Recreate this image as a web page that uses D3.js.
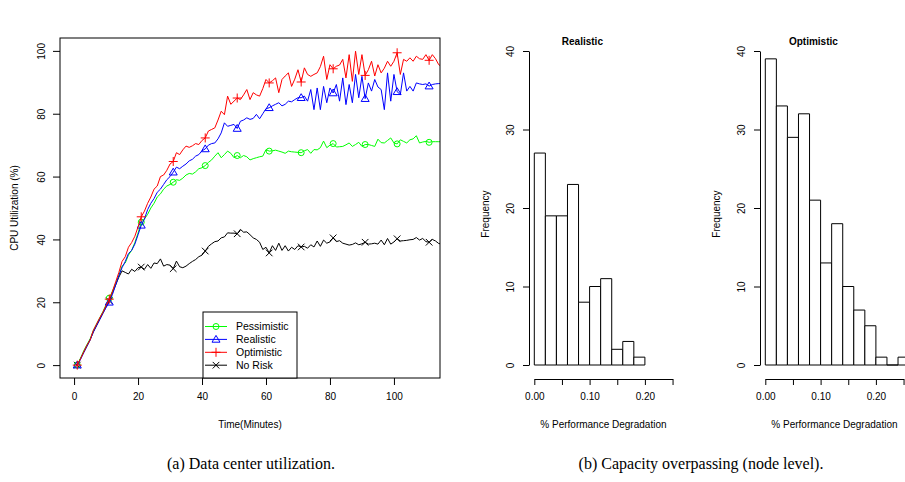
<!DOCTYPE html>
<html>
<head>
<meta charset="utf-8">
<script src="https://cdn.jsdelivr.net/npm/d3@7"></script>
<style>
    body { margin: 0; background: #fff; }
    svg { display: block; font-family: "Liberation Sans", Arial, sans-serif; }
    .tick text { font-size: 10px; fill: #000; }
    .tick line, .domain { stroke: #000; }
</style>
</head>
<body>
<svg id="chart" width="905" height="482"></svg>
<script>
'use strict';

// --- Data ------------------------------------------------------------

// minutes 1..115, one sample per minute
var minutes = [
    1, 2, 3, 4, 5, 6, 7, 8, 9, 10, 11, 12, 13, 14, 15, 16, 17, 18, 19, 20,
    21, 22, 23, 24, 25, 26, 27, 28, 29, 30, 31, 32, 33, 34, 35, 36, 37, 38, 39, 40,
    41, 42, 43, 44, 45, 46, 47, 48, 49, 50, 51, 52, 53, 54, 55, 56, 57, 58, 59, 60,
    61, 62, 63, 64, 65, 66, 67, 68, 69, 70, 71, 72, 73, 74, 75, 76, 77, 78, 79, 80,
    81, 82, 83, 84, 85, 86, 87, 88, 89, 90, 91, 92, 93, 94, 95, 96, 97, 98, 99, 100,
    101, 102, 103, 104, 105, 106, 107, 108, 109, 110, 111, 112, 113, 114, 115
];
var markerMinutes = [1, 11, 21, 31, 41, 51, 61, 71, 81, 91, 101, 111];

var pessimistic = [
    0, 2.2, 4.5, 6.5, 8.3, 11, 13, 15, 17, 19.2,
    21.3, 23.5, 26, 28.5, 31.5, 32.5, 35, 36.5, 39, 42,
    45.5, 46.5, 48, 50, 51.5, 53.5, 54.5, 56, 57, 57.5,
    58.2, 59, 58.8, 59.5, 60.5, 61, 60.8, 61.5, 62.5, 62.8,
    63.5, 64.5, 65.3, 66.5, 67.6, 66, 67, 68.1, 67.4, 66,
    66.7, 66, 66.7, 66.3, 65.3, 65.7, 66, 66.3, 66.5, 68.6,
    68.1, 68.2, 68.4, 68.1, 67.8, 67.4, 68.1, 67.9, 67.8, 67.7,
    67.6, 68.2, 68.6, 67.4, 68.6, 68.5, 69.2, 71.3, 69.2, 70,
    70.5, 69.4, 69.5, 69.6, 70.1, 70.7, 69.6, 70.2, 70.9, 69.6,
    70.2, 70.2, 69.9, 69.6, 71.9, 70.8, 70.7, 71.5, 72.3, 70.7,
    70.4, 71.7, 71.2, 70.7, 71.7, 72, 73, 70.7, 71, 71.2,
    70.9, 71.1, 71.1, 71.1, 71.1
];
var realistic = [
    0, 1.8, 4, 6, 8, 10.5, 12.5, 14.5, 16.5, 18.3,
    20, 22.5, 25.5, 28.5, 31, 33, 35.5, 36.5, 38.5, 41.5,
    44.5, 46.5, 49.5, 51.5, 53, 55, 56, 57.5, 59, 60,
    61.4, 63, 62.5, 63.3, 64, 65, 65.5, 66.5, 67, 68.2,
    68.8, 70, 70.5, 70.7, 72, 73.9, 77.1, 76, 76.3, 76.6,
    75.3, 77.6, 78, 78.7, 78.2, 78.5, 79.8, 78.4, 80, 81.6,
    81.9, 82.5, 83, 83.5, 82.5, 83, 84, 83.8, 84.5, 85.1,
    85.1, 85.6, 84, 87.7, 81.3, 88.2, 81.3, 88.7, 83.5, 88.2,
    86.6, 89.3, 84, 91.4, 82.9, 89.3, 83.5, 92.5, 85.1, 91.9,
    84.8, 89.8, 87.2, 90.9, 88.5, 87.7, 81.3, 93, 84, 92.5,
    87, 86.1, 93, 87.2, 88.7, 87.2, 89.8, 89.5, 89.3, 89.5,
    88.8, 89.3, 89.5, 89.6, 89.6
];
var optimistic = [
    0, 2, 4.2, 6.3, 8, 11, 13, 15, 16.8, 19,
    21, 23.5, 26.5, 29.5, 33, 34.5, 37.5, 39, 41, 44,
    47.2, 49, 51.5, 53.5, 56, 57, 60, 60.5, 62, 64,
    64.8, 67.6, 67, 68.5, 69.7, 69.3, 69.8, 70.5, 70.2, 71.5,
    72.3, 74.5, 75, 75.5, 78, 80.8, 79.7, 85.6, 83, 84,
    85, 84.5, 86, 87.7, 84.5, 86.7, 86, 85.6, 88, 90.9,
    89.8, 90.5, 91.4, 86.7, 90.9, 92, 93, 88.7, 91, 94,
    90.1, 94.6, 92.5, 91.9, 92.5, 93, 95, 98.3, 90.9, 95.6,
    94.3, 95.1, 95.5, 97.3, 91.4, 98.8, 90.3, 99.9, 92.5, 98.8,
    92.2, 94, 96.7, 92, 95.6, 93, 94.5, 96.7, 95.1, 96.7,
    99.4, 92.5, 97.3, 96.7, 97.8, 96.7, 98.3, 97.5, 97.3, 98.8,
    97, 98.8, 97.5, 95.6, 95
];
var noRisk = [
    0, 2, 4, 6, 8, 10.5, 12.5, 14.5, 16.5, 18.5,
    20.5, 23, 25.5, 28, 30, 29.5, 29, 30.5, 29.8, 31,
    31.2, 30.5, 32, 30.8, 32.5, 32.3, 33.8, 31.5, 32, 31.8,
    30.7, 33.1, 31.3, 31, 31.5, 32.3, 33, 33.6, 34.5, 35,
    36.3, 37.8, 38.6, 39.3, 39.5, 40.5, 40.8, 42.1, 42, 42,
    41.8, 43.2, 42.3, 42.4, 41.5, 40.5, 40, 39.1, 36.8, 37.5,
    35.7, 38, 36.5, 38.8, 36.5, 38, 36.3, 37.5, 36.8, 38,
    37.6, 37.8, 37.2, 38.3, 37.6, 39.5, 37.8, 39.8, 38.8, 39.2,
    40.5, 39.3, 39.6, 38.8, 38.5, 38.2, 38.4, 38.9, 38.3, 38.6,
    39.1, 38.5, 38.6, 38.8, 38.5, 39.8, 38.3, 40.3, 38.5, 39.2,
    40.2, 39.5, 39.6, 39.7, 39.9, 40, 40.6, 39.8, 40.3, 39.3,
    39.1, 40, 39.5, 38.7, 38.5
];

var seriesNames = ['Pessimistic', 'Realistic', 'Optimistic', 'No Risk'];
var seriesColors = ['#00ff00', '#0000ff', '#ff0000', '#000000'];
var seriesSymbols = ['circle', 'triangle', 'plus', 'cross'];

var utilTicks = [0, 20, 40, 60, 80, 100];
var minuteTicks = [0, 20, 40, 60, 80, 100];

// histogram bins of width 0.02
var binEdges = [0, 0.02, 0.04, 0.06, 0.08, 0.10, 0.12, 0.14, 0.16, 0.18,
                0.20, 0.22, 0.24, 0.26];
var realisticCounts = [27, 19, 19, 23, 8, 10, 11, 2, 3, 1];
var optimisticCounts = [39, 33, 29, 32, 21, 13, 18, 10, 7, 5, 1, 0, 1];
var freqTicks = [0, 10, 20, 30, 40];
var degTicks = [0, 0.05, 0.10, 0.15, 0.20, 0.25];
var degLabels = ['0.00', '', '0.10', '', '0.20', ''];

var captions = ['(a) Data center utilization.', '(b) Capacity overpassing (node level).'];

(function () {
    var svg = d3.select('#chart');
    var allSeries = [pessimistic, realistic, optimistic, noRisk];

    // --- symbols (R pch 1..4) ----------------------------------------

    function drawSymbol(g, kind, cx, cy, color) {
        var s = 3.3;
        if (kind === 'circle') {
            g.append('circle').attr('cx', cx).attr('cy', cy).attr('r', 3)
                .attr('fill', 'none').attr('stroke', color);
        } else if (kind === 'triangle') {
            g.append('path')
                .attr('d', 'M' + cx + ',' + (cy - 4) + 'L' + (cx + 4) + ',' + (cy + 2.8) +
                    'L' + (cx - 4) + ',' + (cy + 2.8) + 'Z')
                .attr('fill', 'none').attr('stroke', color);
        } else if (kind === 'plus') {
            g.append('path')
                .attr('d', 'M' + (cx - 4.5) + ',' + cy + 'H' + (cx + 4.5) +
                    'M' + cx + ',' + (cy - 4.5) + 'V' + (cy + 4.5))
                .attr('stroke', color);
        } else {
            g.append('path')
                .attr('d', 'M' + (cx - s) + ',' + (cy - s) + 'L' + (cx + s) + ',' + (cy + s) +
                    'M' + (cx - s) + ',' + (cy + s) + 'L' + (cx + s) + ',' + (cy - s))
                .attr('stroke', color);
        }
    }

    function rotateYLabels(axisG, offset) {
        axisG.selectAll('.tick text')
            .attr('x', null).attr('dy', null)
            .attr('text-anchor', 'middle')
            .attr('transform', 'translate(' + (-offset) + ',0) rotate(-90)');
    }

    // --- (a) utilization line chart ----------------------------------

    function drawLineChart() {
        var left = 60, top = 38, right = 440, bottom = 378;
        var x = d3.scaleLinear().domain([-4.4, 114.4]).range([left, right]);
        var y = d3.scaleLinear().domain([-4.1, 104.1]).range([bottom, top]);
        var g = svg.append('g');

        svg.append('defs').append('clipPath').attr('id', 'plotClip')
            .append('rect').attr('x', left).attr('y', top)
            .attr('width', right - left).attr('height', bottom - top);

        var plot = g.append('g').attr('clip-path', 'url(#plotClip)');
        var line = d3.line()
            .x(function (d, i) { return x(minutes[i]); })
            .y(function (d) { return y(d); });

        // draw No Risk first so the coloured lines sit on top of it
        [3, 0, 1, 2].forEach(function (k) {
            plot.append('path').datum(allSeries[k])
                .attr('d', line)
                .attr('fill', 'none')
                .attr('stroke', seriesColors[k])
                .attr('stroke-width', 1);
            markerMinutes.forEach(function (m) {
                var v = allSeries[k][minutes.indexOf(m)];
                drawSymbol(plot, seriesSymbols[k], x(m), y(v), seriesColors[k]);
            });
        });

        g.append('rect').attr('x', left).attr('y', top)
            .attr('width', right - left).attr('height', bottom - top)
            .attr('fill', 'none').attr('stroke', '#000');

        var xa = g.append('g').attr('transform', 'translate(0,' + bottom + ')')
            .call(d3.axisBottom(x).tickValues(minuteTicks).tickSize(7).tickPadding(8)
                .tickFormat(d3.format('d')));
        xa.select('.domain').remove();

        var ya = g.append('g').attr('transform', 'translate(' + left + ',0)')
            .call(d3.axisLeft(y).tickValues(utilTicks).tickSize(7).tickFormat(d3.format('d')));
        ya.select('.domain').remove();
        rotateYLabels(ya, 15);

        g.append('text').attr('x', (left + right) / 2).attr('y', 428)
            .attr('text-anchor', 'middle').attr('font-size', 10)
            .text('Time(Minutes)');
        g.append('text')
            .attr('transform', 'translate(18,' + ((top + bottom) / 2) + ') rotate(-90)')
            .attr('text-anchor', 'middle').attr('font-size', 10)
            .text('CPU Utilization (%)');

        // legend
        var lg = g.append('g');
        lg.append('rect').attr('x', 203).attr('y', 312).attr('width', 94).attr('height', 66)
            .attr('fill', '#fff').attr('stroke', '#000');
        seriesNames.forEach(function (name, k) {
            var cy = 326.5 + k * 12.9;
            lg.append('line').attr('x1', 205).attr('x2', 227)
                .attr('y1', cy).attr('y2', cy).attr('stroke', seriesColors[k]);
            drawSymbol(lg, seriesSymbols[k], 216, cy, seriesColors[k]);
            lg.append('text').attr('x', 236).attr('y', cy).attr('dy', '0.35em')
                .attr('font-size', 10.5).text(name);
        });
    }

    // --- (b) histograms ----------------------------------------------

    function drawHistogram(counts, title, x0, axisX) {
        var x = d3.scaleLinear().domain([0, 0.25]).range([x0, x0 + 0.25 * 553]);
        var y = d3.scaleLinear().domain([0, 40]).range([365, 51]);
        var g = svg.append('g');

        counts.forEach(function (c, i) {
            var a = x(binEdges[i]), b = x(binEdges[i + 1]);
            g.append('path')
                .attr('d', 'M' + a + ',' + y(0) + 'V' + y(c) + 'H' + b + 'V' + y(0) + 'Z')
                .attr('fill', '#fff').attr('stroke', '#000');
        });

        g.append('g').attr('transform', 'translate(0,379)')
            .call(d3.axisBottom(x).tickValues(degTicks).tickSize(6).tickSizeOuter(0)
                .tickPadding(8)
                .tickFormat(function (d, i) { return degLabels[i]; }));

        var ya = g.append('g').attr('transform', 'translate(' + axisX + ',0)')
            .call(d3.axisLeft(y).tickValues(freqTicks).tickSize(6).tickSizeOuter(0)
                .tickFormat(d3.format('d')));
        rotateYLabels(ya, 15);

        g.append('text').attr('x', axisX - 44).attr('y', 210)
            .attr('transform', 'rotate(-90,' + (axisX - 40) + ',210)')
            .attr('text-anchor', 'middle').attr('font-size', 10)
            .text('Frequency');
        g.append('text').attr('x', x(0.125)).attr('y', 428)
            .attr('text-anchor', 'middle').attr('font-size', 10)
            .text('% Performance Degradation');
        g.append('text').attr('x', x(0.087)).attr('y', 45)
            .attr('text-anchor', 'middle').attr('font-size', 10).attr('font-weight', 'bold')
            .text(title);
    }

    drawLineChart();
    drawHistogram(realisticCounts, 'Realistic', 534.3, 529);
    drawHistogram(optimisticCounts, 'Optimistic', 765.3, 760);

    // --- captions ----------------------------------------------------
    svg.selectAll('text.caption').data(captions).enter().append('text')
        .attr('class', 'caption')
        .attr('x', function (d, i) { return i === 0 ? 251 : 701; })
        .attr('y', 469)
        .attr('text-anchor', 'middle')
        .attr('font-family', '"Liberation Serif", "Times New Roman", serif')
        .attr('font-size', 16)
        .text(function (d) { return d; });
}());
</script>
</body>
</html>
